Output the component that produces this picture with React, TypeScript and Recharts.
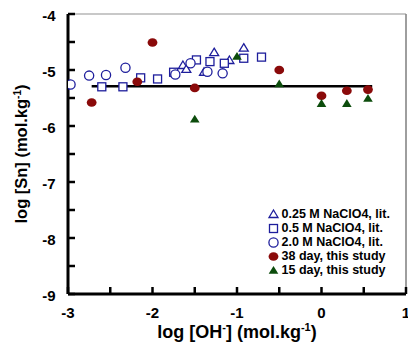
import React from "react";
import {
  Legend,
  ReferenceLine,
  Scatter,
  ScatterChart,
  XAxis,
  YAxis,
} from "recharts";

const BLUE = "#1e1e9c";
const RED = "#8a0a0a";
const GREEN = "#0c4c0c";
const FONT = "'Liberation Sans', Arial, sans-serif";

// log [OH-], log [Sn] pairs
const lit025: [number, number][] = [
  [-1.64, -4.92],
  [-1.6, -4.99],
  [-1.39, -5.04],
  [-1.27, -4.69],
  [-1.09, -4.83],
  [-0.92, -4.61],
];
const lit05: [number, number][] = [
  [-2.6, -5.3],
  [-2.35, -5.3],
  [-2.14, -5.14],
  [-1.94, -5.16],
  [-1.75, -5.04],
  [-1.48, -4.82],
  [-1.32, -4.85],
  [-1.15, -4.88],
  [-0.92, -4.79],
  [-0.71, -4.77],
];
const lit20: [number, number][] = [
  [-2.97, -5.26],
  [-2.75, -5.1],
  [-2.55, -5.09],
  [-2.32, -4.96],
  [-1.73, -5.08],
  [-1.55, -4.88],
  [-1.35, -5.03],
  [-1.17, -5.06],
];
const day38: [number, number][] = [
  [-2.72, -5.58],
  [-2.18, -5.21],
  [-2.0, -4.51],
  [-1.5, -5.32],
  [-0.5, -5.0],
  [0.0, -5.46],
  [0.3, -5.37],
  [0.55, -5.35],
];
const day15: [number, number][] = [
  [-1.5, -5.88],
  [-1.0, -4.76],
  [-0.5, -5.25],
  [0.0, -5.6],
  [0.3, -5.6],
  [0.55, -5.51],
];

// mean solubility line
const fitLevel = -5.29;
const fitRange = [-2.72, 0.6];

const xTicks = [-3, -2.5, -2, -1.5, -1, -0.5, 0, 0.5, 1];
const yTicks = [-9, -8.5, -8, -7.5, -7, -6.5, -6, -5.5, -5, -4.5, -4];

const toPoints = (arr: [number, number][]) =>
  arr.map(([x, y]) => ({ x, y }));

const OpenTriangle = ({ cx, cy }: any) => (
  <path
    d={`M${cx},${cy - 4.5} L${cx + 4.5},${cy + 3} L${cx - 4.5},${cy + 3} Z`}
    fill="#fff"
    stroke={BLUE}
    strokeWidth={1.3}
  />
);
const OpenSquare = ({ cx, cy }: any) => (
  <rect
    x={cx - 4}
    y={cy - 4}
    width={8}
    height={8}
    fill="#fff"
    stroke={BLUE}
    strokeWidth={1.3}
  />
);
const OpenCircle = ({ cx, cy }: any) => (
  <circle cx={cx} cy={cy} r={4.6} fill="#fff" stroke={BLUE} strokeWidth={1.3} />
);
const RedDot = ({ cx, cy }: any) => (
  <ellipse cx={cx} cy={cy} rx={4.9} ry={4.3} fill={RED} />
);
const GreenTriangle = ({ cx, cy }: any) => (
  <path
    d={`M${cx},${cy - 4.5} L${cx + 4.8},${cy + 3.3} L${cx - 4.8},${cy + 3.3} Z`}
    fill={GREEN}
  />
);

const legendItems = [
  { label: "0.25 M NaClO4, lit.", Shape: OpenTriangle },
  { label: "0.5 M NaClO4, lit.", Shape: OpenSquare },
  { label: "2.0 M NaClO4, lit.", Shape: OpenCircle },
  { label: "38 day, this study", Shape: RedDot },
  { label: "15 day, this study", Shape: GreenTriangle },
];

function LegendBox() {
  return (
    <div style={{ fontFamily: FONT, fontWeight: 700, fontSize: 12.5 }}>
      {legendItems.map(({ label, Shape }) => (
        <div
          key={label}
          style={{ display: "flex", alignItems: "center", height: 14.2 }}
        >
          <svg width={13} height={12} style={{ marginRight: 1.5 }}>
            <Shape cx={6.5} cy={6.5} />
          </svg>
          <span style={{ color: "#000", whiteSpace: "nowrap" }}>{label}</span>
        </div>
      ))}
    </div>
  );
}

function XTitle(props: any) {
  const vb = props.viewBox ?? { x: 68, y: 294, width: 338 };
  return (
    <text
      x={vb.x + vb.width / 2}
      y={vb.y + 44}
      textAnchor="middle"
      fontFamily={FONT}
      fontWeight={700}
      fontSize={18}
      fill="#000"
    >
      <tspan>log [OH</tspan>
      <tspan dy={-7} fontSize={11}>
        -
      </tspan>
      <tspan dy={7}>] (mol.kg</tspan>
      <tspan dy={-7} fontSize={11}>
        -1
      </tspan>
      <tspan dy={7}>)</tspan>
    </text>
  );
}

function YTitle(props: any) {
  const vb = props.viewBox ?? { x: 0, y: 14, height: 280 };
  const cx = vb.x + 27;
  const cy = vb.y + vb.height / 2;
  return (
    <text
      x={cx}
      y={cy}
      transform={`rotate(-90 ${cx} ${cy})`}
      textAnchor="middle"
      fontFamily={FONT}
      fontWeight={700}
      fontSize={16.5}
      fill="#000"
    >
      <tspan>log [Sn] (mol.kg</tspan>
      <tspan dy={-6.5} fontSize={10}>
        -1
      </tspan>
      <tspan dy={6.5}>)</tspan>
    </text>
  );
}

const tickStyle = {
  fontSize: 15,
  fontWeight: 700,
  fill: "#000",
  fontFamily: FONT,
};

export default function App() {
  return (
    <div style={{ position: "absolute", left: 0, top: 0, background: "#fff" }}>
      <ScatterChart
        width={408}
        height={352}
        margin={{ top: 14, right: 2, bottom: 0, left: 0 }}
      >
        <XAxis
          type="number"
          dataKey="x"
          domain={[-3, 1]}
          ticks={xTicks}
          interval={0}
          allowDataOverflow
          height={58}
          tickSize={-7}
          tickMargin={20}
          tickFormatter={(v: number) => (Number.isInteger(v) ? String(v) : "")}
          tick={tickStyle}
          tickLine={{ stroke: "#000", strokeWidth: 2.5 }}
          axisLine={{ stroke: "#000", strokeWidth: 3 }}
          label={{ content: (p: any) => <XTitle {...p} /> }}
        />
        <YAxis
          type="number"
          dataKey="y"
          domain={[-9, -4]}
          ticks={yTicks}
          interval={0}
          allowDataOverflow
          width={68}
          tickSize={-7}
          tickMargin={19.5}
          tickFormatter={(v: number) => (Number.isInteger(v) ? String(v) : "")}
          tick={{ ...tickStyle, dy: 1.5 }}
          tickLine={{ stroke: "#000", strokeWidth: 2.5 }}
          axisLine={{ stroke: "#000", strokeWidth: 3 }}
          label={{ content: (p: any) => <YTitle {...p} /> }}
        />
        <ReferenceLine y={-4} stroke="#c8c8c8" strokeWidth={2} />
        <ReferenceLine x={1} stroke="#868686" strokeWidth={1.6} />
        <ReferenceLine
          segment={[
            { x: fitRange[0], y: fitLevel },
            { x: fitRange[1], y: fitLevel },
          ]}
          stroke="#000"
          strokeWidth={2.5}
        />
        <Scatter
          name="0.25 M NaClO4, lit."
          data={toPoints(lit025)}
          shape={OpenTriangle}
          isAnimationActive={false}
        />
        <Scatter
          name="0.5 M NaClO4, lit."
          data={toPoints(lit05)}
          shape={OpenSquare}
          isAnimationActive={false}
        />
        <Scatter
          name="2.0 M NaClO4, lit."
          data={toPoints(lit20)}
          shape={OpenCircle}
          isAnimationActive={false}
        />
        <Scatter
          name="38 day, this study"
          data={toPoints(day38)}
          shape={RedDot}
          isAnimationActive={false}
        />
        <Scatter
          name="15 day, this study"
          data={toPoints(day15)}
          shape={GreenTriangle}
          isAnimationActive={false}
        />
        <Legend
          layout="vertical"
          align="center"
          verticalAlign="middle"
          content={() => <LegendBox />}
          wrapperStyle={{ left: 267, top: 206.5, width: 140 }}
        />
      </ScatterChart>
    </div>
  );
}
